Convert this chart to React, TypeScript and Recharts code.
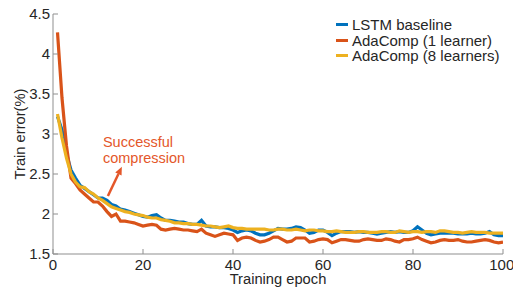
import React from 'react';
import { LineChart, Line, XAxis, YAxis, Legend, ReferenceLine, ReferenceDot, Label } from 'recharts';

const epochs: number[] = [
  1, 2, 3, 4, 5, 6, 7, 8, 9, 10, 11, 12, 13, 14, 15, 16, 17, 18, 19, 20,
  21, 22, 23, 24, 25, 26, 27, 28, 29, 30, 31, 32, 33, 34, 35, 36, 37, 38, 39, 40,
  41, 42, 43, 44, 45, 46, 47, 48, 49, 50, 51, 52, 53, 54, 55, 56, 57, 58, 59, 60,
  61, 62, 63, 64, 65, 66, 67, 68, 69, 70, 71, 72, 73, 74, 75, 76, 77, 78, 79, 80,
  81, 82, 83, 84, 85, 86, 87, 88, 89, 90, 91, 92, 93, 94, 95, 96, 97, 98, 99, 100,
];

const lstmBaseline: number[] = [
  3.22, 3.05, 2.75, 2.55, 2.45, 2.36, 2.32, 2.28, 2.24, 2.2,
  2.2, 2.17, 2.12, 2.1, 2.06, 2.05, 2.03, 2.01, 1.99, 1.97,
  1.96, 1.98, 1.99, 1.95, 1.92, 1.92, 1.91, 1.9, 1.9, 1.88,
  1.87, 1.87, 1.92, 1.85, 1.84, 1.84, 1.83, 1.83, 1.82, 1.8,
  1.77, 1.79, 1.8, 1.79, 1.76, 1.74, 1.74, 1.76, 1.79, 1.82,
  1.81, 1.81, 1.82, 1.84, 1.83, 1.8, 1.76, 1.77, 1.8, 1.8,
  1.77, 1.73, 1.76, 1.78, 1.78, 1.78, 1.77, 1.78, 1.77, 1.77,
  1.76, 1.75, 1.76, 1.77, 1.78, 1.77, 1.78, 1.77, 1.77, 1.79,
  1.84, 1.8, 1.76, 1.74, 1.75, 1.76, 1.76, 1.76, 1.76, 1.75,
  1.75, 1.75, 1.76, 1.75, 1.75, 1.76, 1.78, 1.74, 1.73, 1.73,
];

const adaComp1: number[] = [
  4.27, 3.45, 2.85, 2.45, 2.38, 2.3, 2.25, 2.2, 2.15, 2.15,
  2.1, 2.03, 1.97, 2.0, 1.91, 1.91, 1.9, 1.89, 1.87, 1.85,
  1.86, 1.87, 1.86, 1.81, 1.8, 1.81, 1.82, 1.81, 1.8, 1.8,
  1.79, 1.78, 1.81, 1.76, 1.74, 1.72, 1.74, 1.76, 1.75, 1.74,
  1.67, 1.7, 1.71, 1.7, 1.67, 1.65, 1.66, 1.68, 1.71, 1.71,
  1.68, 1.65, 1.66, 1.7, 1.7, 1.7, 1.65, 1.66, 1.68, 1.69,
  1.68, 1.64, 1.66, 1.68, 1.68, 1.67, 1.66, 1.66, 1.68, 1.69,
  1.68, 1.67, 1.67, 1.69, 1.68, 1.66, 1.65, 1.68, 1.68, 1.69,
  1.71, 1.68, 1.66, 1.64, 1.65, 1.67, 1.68, 1.67, 1.67, 1.68,
  1.66, 1.65, 1.65, 1.66, 1.67, 1.68, 1.67, 1.65, 1.64, 1.65,
];

const adaComp8: number[] = [
  3.25, 2.95, 2.7, 2.5, 2.4, 2.34, 2.33, 2.28, 2.25, 2.2,
  2.17, 2.13, 2.09, 2.07, 2.05, 2.03, 2.02, 2.0, 1.99, 1.98,
  1.96, 1.95, 1.95, 1.93, 1.92, 1.91, 1.89, 1.89, 1.88, 1.88,
  1.87, 1.87, 1.86, 1.85, 1.85, 1.84, 1.83, 1.84, 1.85, 1.83,
  1.82, 1.82, 1.81, 1.81, 1.81, 1.81, 1.81, 1.8, 1.8, 1.81,
  1.81, 1.8, 1.8, 1.81, 1.8, 1.79, 1.8, 1.8, 1.79, 1.79,
  1.78, 1.78, 1.79, 1.78, 1.77, 1.77, 1.77, 1.78, 1.78, 1.77,
  1.77, 1.77, 1.78, 1.78, 1.77, 1.77, 1.79, 1.78, 1.77, 1.78,
  1.78, 1.77, 1.78, 1.78, 1.77, 1.79, 1.79, 1.78, 1.77, 1.77,
  1.76, 1.77, 1.78, 1.77, 1.77, 1.77, 1.76, 1.76, 1.76, 1.76,
];

const xTicks: number[] = [0, 20, 40, 60, 80, 100];
const yTicks: number[] = [1.5, 2, 2.5, 3, 3.5, 4, 4.5];

const seriesNames = ['LSTM baseline', 'AdaComp (1 learner)', 'AdaComp (8 learners)'];
const seriesColors = ['#0072BD', '#D95319', '#EDB120'];

const annotationLines = ['Successful', 'compression'];
const annotationAnchor = { x: 11.1, y: 2.84 };
const arrowFrom = { x: 12.2, y: 2.225 };
const arrowTo = { x: 15.3, y: 2.59 };

const data = epochs.map((e, i) => ({
  epoch: e,
  lstm: lstmBaseline[i],
  ada1: adaComp1[i],
  ada8: adaComp8[i],
}));

const FONT = '"Liberation Sans", Arial, Helvetica, sans-serif';
const AXIS_COLOR = '#8f8f8f';
const TEXT_COLOR = '#262626';
const ANNOT_COLOR = '#E4572A';

const renderLegend = () => (
  <div style={{ fontFamily: FONT, fontSize: 15, color: TEXT_COLOR, lineHeight: '15.5px' }}>
    {seriesNames.map((n, i) => (
      <div key={n} style={{ display: 'flex', alignItems: 'center', whiteSpace: 'nowrap' }}>
        <span style={{ display: 'inline-block', width: 12, height: 3, background: seriesColors[i], marginRight: 4 }} />
        <span>{n}</span>
      </div>
    ))}
  </div>
);

const Arrow = (p: any) => {
  const { x1, y1, x2, y2 } = p;
  const dx = x2 - x1;
  const dy = y2 - y1;
  const len = Math.sqrt(dx * dx + dy * dy) || 1;
  const ux = dx / len;
  const uy = dy / len;
  const hl = 8;
  const hw = 3.5;
  const bx = x2 - ux * hl;
  const by = y2 - uy * hl;
  const pts = `${x2},${y2} ${bx - uy * hw},${by + ux * hw} ${bx + uy * hw},${by - ux * hw}`;
  return (
    <g>
      <line x1={x1} y1={y1} x2={bx} y2={by} stroke={ANNOT_COLOR} strokeWidth={2.5} />
      <polygon points={pts} fill={ANNOT_COLOR} />
    </g>
  );
};

const AnnotationText = (p: any) => (
  <text x={p.cx} y={p.cy} fill={ANNOT_COLOR} fontSize={14.5} fontFamily={FONT}>
    <tspan x={p.cx} dy={0}>{annotationLines[0]}</tspan>
    <tspan x={p.cx} dy={16}>{annotationLines[1]}</tspan>
  </text>
);

export default function App() {
  return (
    <div style={{ position: 'absolute', left: 0, top: 0, width: 513, height: 288, background: '#fff' }}>
      <LineChart
        width={513}
        height={288}
        data={data}
        margin={{ top: 14, right: 10, bottom: 0, left: 0 }}
      >
        <XAxis
          dataKey="epoch"
          type="number"
          domain={[0, 100]}
          ticks={xTicks}
          height={34}
          stroke={AXIS_COLOR}
          tickSize={-5}
          tickMargin={10}
          tick={{ fill: TEXT_COLOR, fontSize: 15, fontFamily: FONT }}
          allowDataOverflow
        >
          <Label
            content={(props: any) => {
              const vb = props.viewBox || { x: 53, y: 254, width: 450 };
              return (
                <text x={vb.x + vb.width / 2} y={284} textAnchor="middle" fill={TEXT_COLOR} fontSize={14.7} fontFamily={FONT}>
                  Training epoch
                </text>
              );
            }}
          />
        </XAxis>
        <XAxis
          xAxisId="top"
          orientation="top"
          type="number"
          domain={[0, 100]}
          ticks={xTicks}
          height={0}
          stroke={AXIS_COLOR}
          tickSize={-5}
          tick={false}
        />
        <YAxis
          type="number"
          domain={[1.5, 4.5]}
          ticks={yTicks}
          width={53}
          stroke={AXIS_COLOR}
          tickSize={-5}
          tickMargin={8}
          tick={{ fill: TEXT_COLOR, fontSize: 15, fontFamily: FONT }}
          allowDataOverflow
        >
          <Label
            content={(props: any) => {
              const vb = props.viewBox || { x: 0, y: 14, width: 53, height: 240 };
              const cx = vb.x + 20;
              const cy = vb.y + vb.height / 2;
              return (
                <text
                  x={cx}
                  y={cy}
                  transform={`rotate(-90 ${cx} ${cy})`}
                  textAnchor="middle"
                  dominantBaseline="central"
                  fill={TEXT_COLOR}
                  fontSize={14.7}
                  fontFamily={FONT}
                >
                  Train error(%)
                </text>
              );
            }}
          />
        </YAxis>
        <YAxis
          yAxisId="right"
          orientation="right"
          type="number"
          domain={[1.5, 4.5]}
          ticks={yTicks}
          width={0}
          stroke={AXIS_COLOR}
          tickSize={-5}
          tick={false}
        />
        <Legend
          layout="vertical"
          align="center"
          verticalAlign="middle"
          content={renderLegend}
          wrapperStyle={{ position: 'absolute', left: 336, top: 17, width: 'auto', height: 'auto' }}
        />
        <Line type="linear" dataKey="lstm" name={seriesNames[0]} stroke={seriesColors[0]} strokeWidth={3.2} dot={false} isAnimationActive={false} />
        <Line type="linear" dataKey="ada1" name={seriesNames[1]} stroke={seriesColors[1]} strokeWidth={3.2} dot={false} isAnimationActive={false} />
        <Line type="linear" dataKey="ada8" name={seriesNames[2]} stroke={seriesColors[2]} strokeWidth={3.2} dot={false} isAnimationActive={false} />
        <ReferenceLine segment={[arrowFrom, arrowTo]} shape={Arrow} ifOverflow="visible" />
        <ReferenceDot x={annotationAnchor.x} y={annotationAnchor.y} r={0} shape={AnnotationText} ifOverflow="visible" />
      </LineChart>
    </div>
  );
}
